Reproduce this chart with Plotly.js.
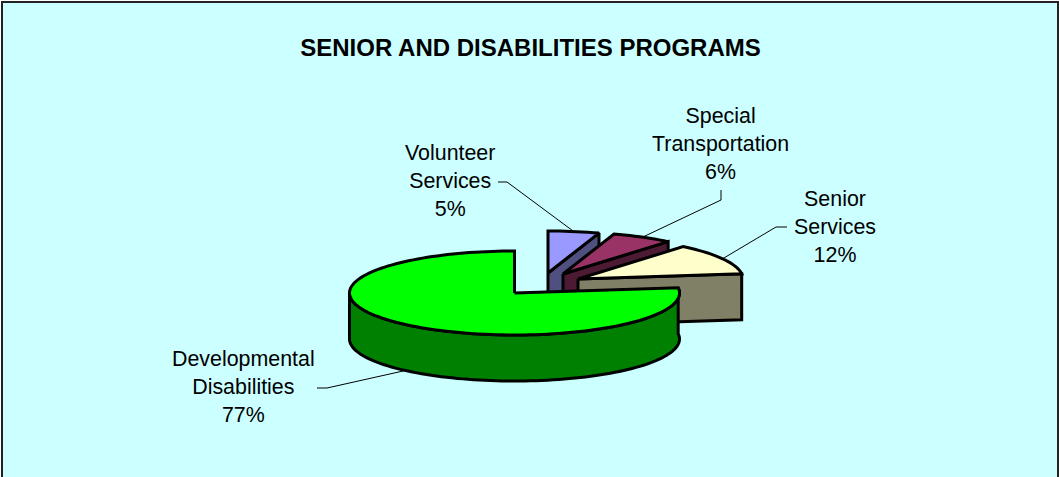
<!DOCTYPE html>
<html>
<head>
<meta charset="utf-8">
<script src="https://cdn.plot.ly/plotly-3.0.1.min.js"></script>
<style>
html, body { margin: 0; padding: 0; background: #fff; overflow: hidden; }
#chart { width: 1059px; height: 477px; }
</style>
</head>
<body>
<div id="chart"></div>
<script>
// Program shares, in drawing order clockwise from twelve o'clock
const categories = ["Volunteer Services", "Special Transportation", "Senior Services", "Developmental Disabilities"];
const shares = [5, 6, 12, 77];

// Appearance of each slice
const topColors = ["#9999FF", "#993366", "#FFFFCC", "#00FF00"];
const wallColors = ["#505080", "#4D1A33", "#808066", "#008000"];

// Pulled-out apex of each slice, in plot units
const apexX = [548, 563, 578, 514.5];
const apexY = [273, 274, 279, 293];

// Label centres and the elbow where each leader line leaves its label
const labelX = [449.5, 720.5, 834.5, 243];
const labelY = [180.5, 143.5, 226.5, 386.5];
const elbowX = [[498, 507], [721, 721], [787, 776], [317, 327]];
const elbowY = [[182, 182], [190, 200], [227, 227], [388, 388]];

// Tilted-disc projection
const radiusX = 165;
const radiusY = 42;
const depth = 46;
const OUTLINE = { color: "#000000", width: 3 };

const project = (i, deg, drop) => {
  const a = deg * Math.PI / 180;
  return [apexX[i] + radiusX * Math.sin(a), apexY[i] - radiusY * Math.cos(a) + (drop || 0)];
};

const arc = (i, from, to, drop) => {
  const pts = [];
  const n = Math.max(2, Math.ceil(Math.abs(to - from) / 2));
  for (let k = 0; k <= n; k++) pts.push(project(i, from + (to - from) * k / n, drop));
  return pts;
};

const polygon = (pts, color) => ({
  type: "scatter",
  mode: "lines",
  x: pts.map(p => p[0]),
  y: pts.map(p => p[1]),
  fill: "toself",
  fillcolor: color,
  line: Object.assign({ simplify: false }, OUTLINE),
  hoverinfo: "skip",
  showlegend: false
});

const total = shares.reduce((a, b) => a + b, 0);
let cursor = 0;
const spans = shares.map(v => {
  const from = cursor;
  cursor += v / total * 360;
  return [from, cursor];
});

// Leader lines run from the label elbow to the middle of the slice's rim
const leaders = categories.map((_, i) => {
  const mid = (spans[i][0] + spans[i][1]) / 2;
  const onFront = mid > 90 && mid < 270;
  const end = project(i, mid, onFront ? depth : 0);
  return {
    type: "scatter",
    mode: "lines",
    x: elbowX[i].concat(end[0]),
    y: elbowY[i].concat(end[1]),
    line: { color: "#000000", width: 1 },
    hoverinfo: "skip",
    showlegend: false
  };
});

// Slices are painted back to front: wall first, then the top face
const slices = [];
categories.forEach((_, i) => {
  const [from, to] = spans[i];
  const apex = [apexX[i], apexY[i]];
  if (to < 90) {
    // Back slice: only the flat cut on its trailing edge shows
    const rim = project(i, to);
    slices.push(polygon([apex, rim, [rim[0], rim[1] + depth], [apex[0], apex[1] + depth], apex], wallColors[i]));
  } else {
    // Front slice: the curved rim shows
    const upper = arc(i, from, Math.min(to, 270));
    const lower = arc(i, Math.min(to, 270), from, depth);
    slices.push(polygon(upper.concat(lower, [upper[0]]), wallColors[i]));
  }
  slices.push(polygon([apex].concat(arc(i, from, to), [apex]), topColors[i]));
});

const labels = categories.map((name, i) => ({
  xref: "x", yref: "y",
  x: labelX[i], y: labelY[i],
  text: name.replace(" ", "<br>") + "<br>" + shares[i] + "%",
  showarrow: false,
  align: "center",
  xanchor: "center",
  yanchor: "middle",
  bgcolor: "rgba(0,0,0,0)",
  font: { family: "Liberation Sans, Arial, sans-serif", size: 21.4, color: "#000000" }
}));

const layout = {
  width: 1059,
  height: 477,
  margin: { l: 0, r: 0, t: 0, b: 0 },
  paper_bgcolor: "#FFFFFF",
  plot_bgcolor: "#FFFFFF",
  showlegend: false,
  hovermode: false,
  title: {
    text: "<b>SENIOR AND DISABILITIES PROGRAMS</b>",
    x: 530.5 / 1059, xanchor: "center",
    y: 1 - 48 / 477, yanchor: "middle",
    font: { family: "Liberation Sans, Arial, sans-serif", size: 24, color: "#000000" }
  },
  xaxis: { range: [0, 1059], visible: false, fixedrange: true },
  yaxis: { range: [477, 0], visible: false, fixedrange: true },
  shapes: [
    // Panel with its dark frame; the lower edge runs off the page
    { type: "rect", layer: "below", xref: "x", yref: "y", x0: 2, x1: 1058, y0: 2, y1: 520,
      fillcolor: "#CCFFFF", line: { color: "#222222", width: 2 } }
  ],
  annotations: labels
};

Plotly.newPlot("chart", leaders.concat(slices), layout, { displayModeBar: false, staticPlot: true });
</script>
</body>
</html>
